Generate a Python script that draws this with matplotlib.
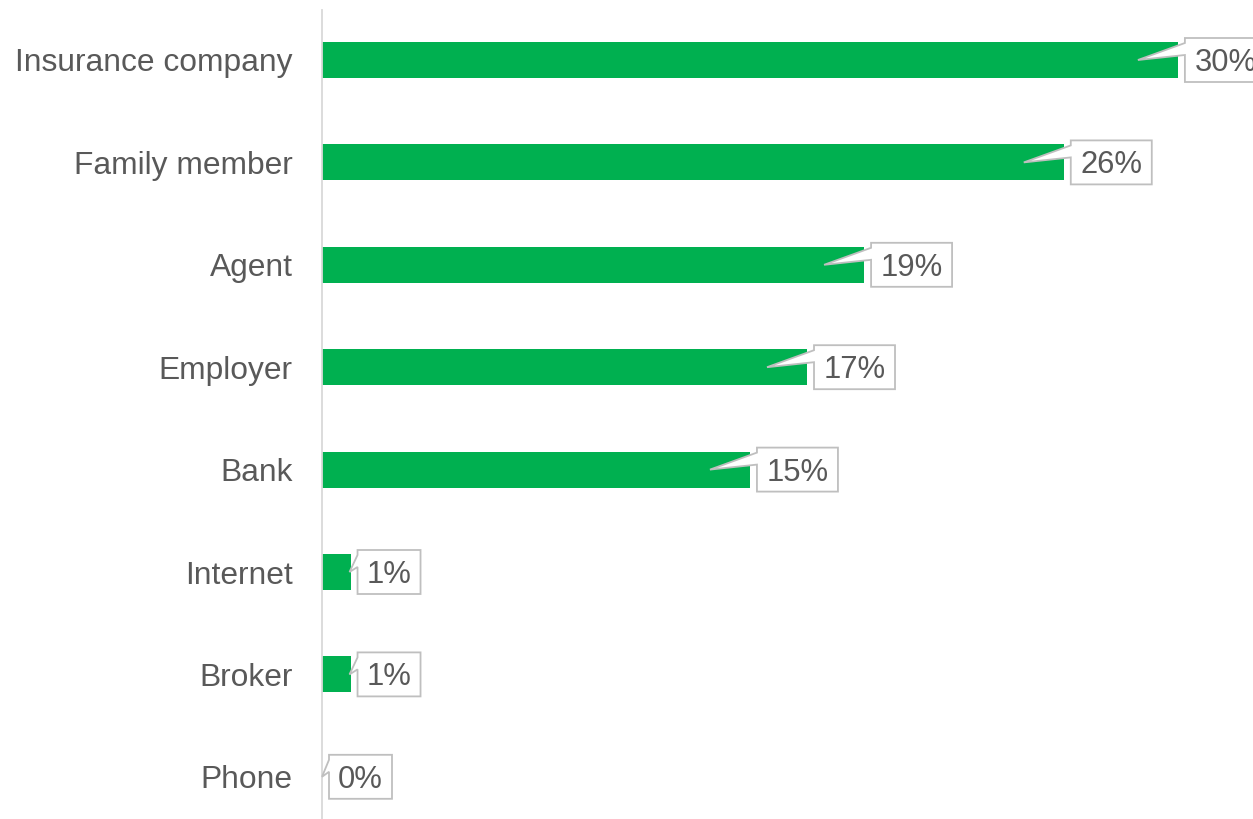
import numpy as np
import matplotlib.pyplot as plt
from matplotlib.patches import Polygon

# sources of information, share of respondents (%)
sources = ["Insurance company", "Family member", "Agent", "Employer",
           "Bank", "Internet", "Broker", "Phone"]
shares = [30, 26, 19, 17, 15, 1, 1, 0]
labels = [f"{v}%" for v in shares]

green = "#00b050"
grey_text = "#595959"

plt.rcParams['font.family'] = ['Liberation Sans', 'DejaVu Sans']

fig = plt.figure(figsize=(12.53, 8.19), dpi=100)
W, H = 1253, 819
ax = fig.add_axes([322 / W, 0, 1 - 322 / W, (819 - 10) / H])

y = np.arange(len(sources))
ax.barh(y, shares, height=0.35, color=green, zorder=2)

px_x = 28.53   # pixels per percent
px_y = 102.4   # pixels per category
ax.set_xlim(0, (W - 322) / px_x)
ax.set_ylim((819 - 60) / px_y, -50 / px_y)

ax.set_yticks(y)
ax.set_yticklabels(sources, fontsize=22.9, color=grey_text)
ax.tick_params(axis='y', length=0, pad=21)
ax.set_xticks([])
for s in ['top', 'right', 'bottom']:
    ax.spines[s].set_visible(False)
ax.spines['left'].set_color('#d9d9d9')
ax.spines['left'].set_linewidth(1.3)

# callout boxes with a pointer into the bar end
for yi, v, lab in zip(y, shares, labels):
    left = v + 7 / px_x
    w = (63 + 18 * (len(lab) - 2)) / px_x
    top = yi - 22 / px_y
    bot = yi + 22 / px_y
    if v >= 5:
        tip = v - 40 / px_x
    else:
        tip = max(v - 1 / px_x, 0)
    pts = [(left, top), (left + w, top), (left + w, bot), (left, bot),
           (left, top + 17 / px_y), (tip, yi), (left, top + 5 / px_y)]
    ax.add_patch(Polygon(pts, closed=True, facecolor='white',
                         edgecolor='#bfbfbf', linewidth=1.3,
                         clip_on=False, zorder=3))
    ax.text(left + w / 2, yi + 3 / px_y, lab, ha='center', va='center',
            fontsize=22.3, color=grey_text, zorder=4, clip_on=False)

fig.savefig("out.png", dpi=100)
